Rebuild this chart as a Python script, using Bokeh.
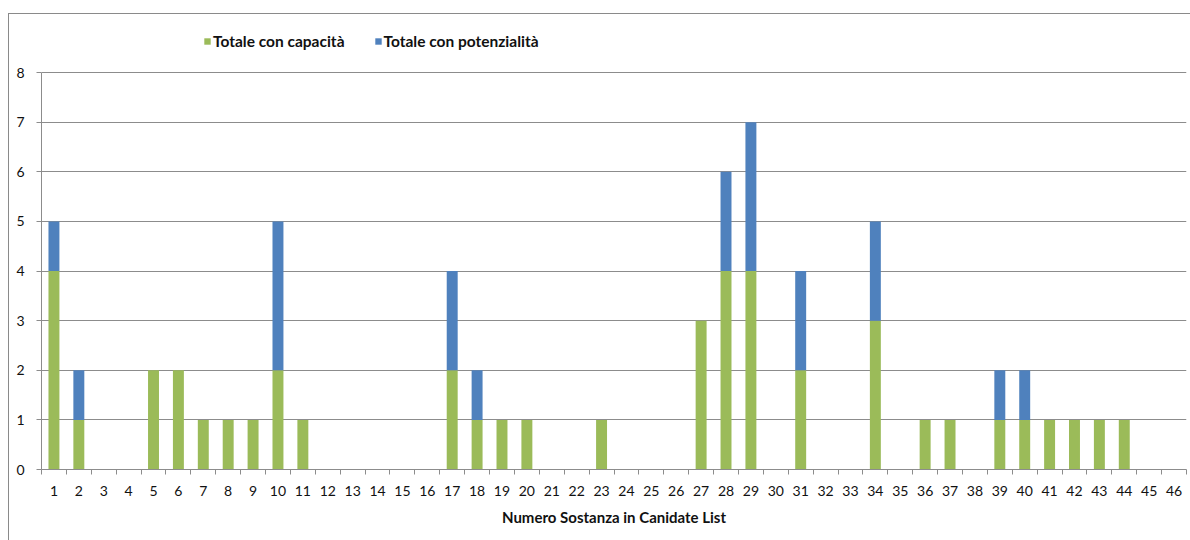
from bokeh.plotting import figure
from bokeh.models import FixedTicker, Range1d, Legend, LegendItem
from bokeh.embed import file_html
from bokeh.resources import INLINE

# Sostanze della Candidate List (numero progressivo)
categories = list(range(1, 47))

capacita = [4, 1, 0, 0, 2, 2, 1, 1, 1, 2,
            1, 0, 0, 0, 0, 0, 2, 1, 1, 1,
            0, 0, 1, 0, 0, 0, 3, 4, 4, 0,
            2, 0, 0, 3, 0, 1, 1, 0, 1, 1,
            1, 1, 1, 1, 0, 0]

potenzialita = [1, 1, 0, 0, 0, 0, 0, 0, 0, 3,
                0, 0, 0, 0, 0, 0, 2, 1, 0, 0,
                0, 0, 0, 0, 0, 0, 0, 2, 3, 0,
                2, 0, 0, 2, 0, 0, 0, 0, 1, 1,
                0, 0, 0, 0, 0, 0]

y_ticks = list(range(0, 9))
series_names = ["Totale con capacità", "Totale con potenzialità"]
colors = ["#9BBB59", "#4F81BD"]

FONT = "Lato"
GRID = "#8c8c8c"

# the plotting frame reaches up to the chart border so the legend can sit
# above the value axis; the axis itself stops at 8
Y_TOP = 8 * (468 - 14) / (468 - 72)

data = dict(x=categories, cap=capacita, pot=potenzialita)

p = figure(width=1182, height=527, output_backend="svg", toolbar_location=None,
           x_range=Range1d(0.5, len(categories) + 0.5), y_range=Range1d(0, Y_TOP),
           min_border_left=32, min_border_right=5, min_border_top=0,
           min_border_bottom=72)
p.margin = (13, 0, 0, 8)
p.styles = {"border-top": "1px solid #8a8a8a", "border-left": "1px solid #8a8a8a"}
p.outline_line_color = None
p.background_fill_color = "white"
p.border_fill_color = "white"

renderers = p.vbar_stack(["cap", "pot"], x="x", width=0.44, color=colors,
                         line_color=None, source=data)

# x axis: labels at category centres, tick marks between categories
p.xaxis.ticker = FixedTicker(ticks=categories,
                             minor_ticks=[c + 0.5 for c in [0] + categories])
p.xaxis.major_tick_out = 0
p.xaxis.major_tick_in = 0
p.xaxis.minor_tick_out = 5
p.xaxis.minor_tick_in = 0
p.xaxis.minor_tick_line_color = GRID
p.xaxis.axis_line_color = GRID
p.xaxis.major_label_text_font = FONT
p.xaxis.major_label_text_font_size = "14px"
p.xaxis.major_label_text_color = "#111111"
p.xaxis.major_label_standoff = 11
p.xaxis.axis_label = "Numero Sostanza in Canidate List"
p.xaxis.axis_label_text_font = FONT
p.xaxis.axis_label_text_font_style = "bold"
p.xaxis.axis_label_text_font_size = "15px"
p.xaxis.axis_label_text_color = "#111111"
p.xaxis.axis_label_standoff = 9

p.yaxis.ticker = FixedTicker(ticks=y_ticks)
p.yaxis.bounds = (0, 8)
p.yaxis.major_tick_out = 5
p.yaxis.major_tick_in = 0
p.yaxis.minor_tick_line_color = None
p.yaxis.major_tick_line_color = GRID
p.yaxis.axis_line_color = GRID
p.yaxis.major_label_text_font = FONT
p.yaxis.major_label_text_font_size = "14px"
p.yaxis.major_label_text_color = "#111111"
p.yaxis.major_label_standoff = 12

p.xgrid.grid_line_color = None
p.ygrid.ticker = FixedTicker(ticks=y_ticks)
p.ygrid.grid_line_color = GRID
p.ygrid.grid_line_width = 1

legend = Legend(items=[LegendItem(label=n, renderers=[r]) for n, r in zip(series_names, renderers)],
                orientation="horizontal", location=(162, 419),
                label_text_font=FONT, label_text_font_size="15.5px",
                label_text_font_style="bold", label_text_color="#111111",
                glyph_width=8, glyph_height=8, label_height=16, label_standoff=2,
                spacing=29, padding=0, margin=0, border_line_color=None,
                background_fill_alpha=0)
p.add_layout(legend, "center")

open("out.html", "w").write(file_html(p, INLINE))
